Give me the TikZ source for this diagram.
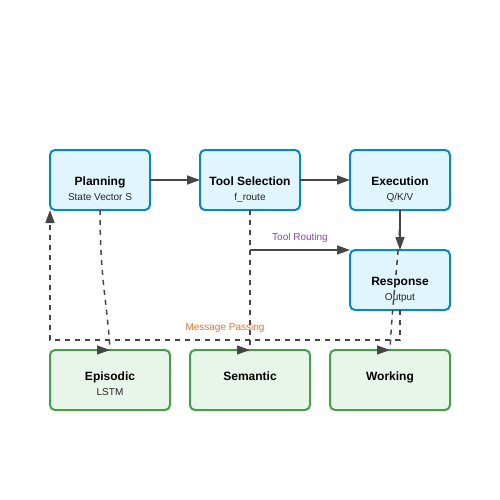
\documentclass[tikz,border=0pt]{standalone}
\usepackage{fontspec}
\setmainfont{Liberation Sans}
\usepackage{xcolor}
\definecolor{stageborder}{RGB}{2,136,209}
\definecolor{stagebg}{RGB}{225,245,254}
\definecolor{memborder}{RGB}{67,160,71}
\definecolor{membg}{RGB}{232,245,233}
\definecolor{linkgray}{RGB}{70,70,70}
\definecolor{routepurple}{RGB}{142,68,173}
\definecolor{msgorange}{RGB}{235,110,45}
\usetikzlibrary{positioning}
\usetikzlibrary{arrows.meta}

\begin{document}
\begin{tikzpicture}[x=1pt,y=-1pt,
      stage style/.style={rectangle,rounded corners=5pt,draw=stageborder,fill=stagebg,
        line width=2pt,minimum width=100pt,minimum height=60pt,inner sep=0pt,outer sep=0pt},
      mem style/.style={rectangle,rounded corners=5pt,draw=memborder,fill=membg,
        line width=2pt,minimum width=120pt,minimum height=60pt,inner sep=0pt,outer sep=0pt},
      title style/.style={font=\bfseries\fontsize{12}{14}\selectfont,anchor=base,inner sep=0pt},
      sub style/.style={font=\fontsize{10}{12}\selectfont,text=black!85,anchor=base,inner sep=0pt},
      edge text/.style={font=\fontsize{10}{12}\selectfont,anchor=base,inner sep=0pt},
      flow/.style={draw=linkgray,line width=1.5pt,-{Triangle[length=13pt,width=9pt]}},
      link/.style={draw=linkgray,line width=1.5pt,dash pattern=on 5pt off 5pt},
      tip/.style={draw=linkgray,fill=linkgray,line width=1pt,-{Triangle[length=13pt,width=9pt]}}
      ]
      \useasboundingbox (0,0) rectangle (500,500);

      \node[stage style] (plan) at (100,180) {};
      \node[stage style, right=50pt of plan] (tool) {};
      \node[stage style, right=50pt of tool] (exec) {};
      \node[stage style, below=40pt of exec] (resp) {};

      \node[mem style] (epi) at (110,380) {};
      \node[mem style, right=20pt of epi] (sem) {};
      \node[mem style, right=20pt of sem] (work) {};

      \node[title style, yshift=-5pt] (plan title) at (plan.center) {Planning};
      \node[sub style, yshift=-20pt] (plan sub) at (plan.center) {State Vector S};
      \node[title style, yshift=-5pt] (tool title) at (tool.center) {Tool Selection};
      \node[sub style, yshift=-20pt] (tool sub) at (tool.center) {f\_route};
      \node[title style, yshift=-5pt] (exec title) at (exec.center) {Execution};
      \node[sub style, yshift=-20pt] (exec sub) at (exec.center) {Q/K/V};
      \node[title style, yshift=-5pt] (resp title) at (resp.center) {Response};
      \node[sub style, yshift=-20pt] (resp sub) at (resp.center) {Output};

      \node[title style] (epi title) at (epi.center) {Episodic};
      \node[sub style, yshift=-15pt] (epi sub) at (epi.center) {LSTM};
      \node[title style] (sem title) at (sem.center) {Semantic};
      \node[title style] (work title) at (work.center) {Working};

      % pipeline
      \draw[flow] (plan) -- (tool);
      \draw[flow] (tool) -- (exec);
      \draw[flow] (exec) -- (resp);
      \draw[flow] (tool.south |- resp.north west) -- (resp.north west)
        node[midway, edge text, yshift=10pt, text=routepurple] (route) {Tool Routing};

      % memory links
      \draw[link] (plan.south) .. controls +(0,70) and +(-3,-50) .. (epi.north);
      \draw[link] (tool.south) -- (sem.north);
      \draw[link] (exec.south) .. controls +(0,40) and +(3,-60) .. (work.north);
      \draw[link, -{Triangle[length=13pt,width=9pt]}] (resp.south) -- ++(0,30) -| (plan.south west)
        node[pos=0.25, edge text, yshift=10pt, text=msgorange] (msg) {Message Passing};

      \draw[tip] ([xshift=-13pt]epi.north) -- (epi.north);
      \draw[tip] ([xshift=-13pt]sem.north) -- (sem.north);
      \draw[tip] ([xshift=-13pt]work.north) -- (work.north);
    \end{tikzpicture}
\end{document}
